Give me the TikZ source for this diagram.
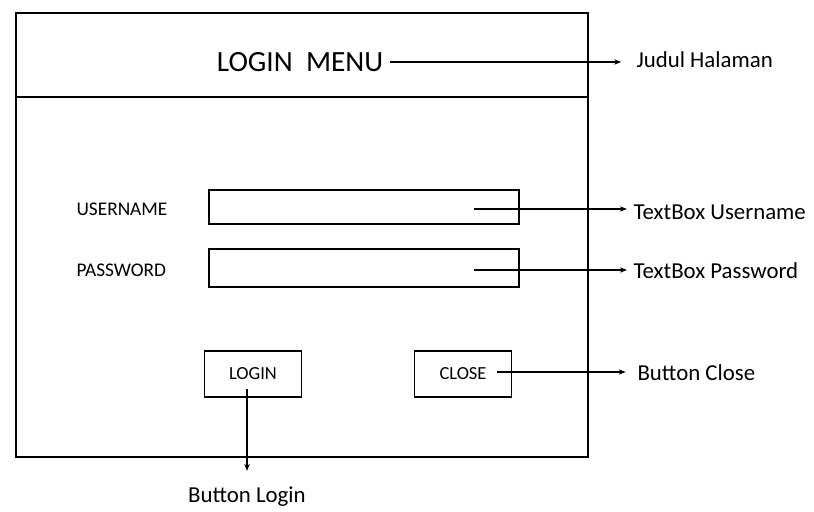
\documentclass[tikz,border=0pt]{standalone}
\usepackage{fontspec}
\setmainfont{Carlito}
\usetikzlibrary{arrows.meta}

\begin{document}
\begin{tikzpicture}[x=0.02cm, y=-0.02cm, line width=0.8pt, >={Stealth[length=4pt,width=3pt]},
	btn/.style={draw, minimum width=1.94cm, minimum height=0.92cm, font=\fontsize{10.5}{12}\selectfont},
	fieldlbl/.style={anchor=west, font=\fontsize{11}{13}\selectfont},
	note/.style={anchor=west, font=\fontsize{13}{15}\selectfont}]
	\useasboundingbox (0,0) rectangle (814,511);
	% form frame and title bar
	\draw (16,13) rectangle (588,457);
	\draw (16,97) -- (588,97);
	\node (title) at (300,62) {\fontsize{16.7}{18}\selectfont LOGIN\ \ MENU};

	\node[fieldlbl] (userlbl) at (70,209) {USERNAME};
	\node[fieldlbl] (passlbl) at (70,270) {PASSWORD};
	\draw (209,190) rectangle (519,224);
	\draw (209,249) rectangle (519,287);
	\coordinate (userpt) at (474,209);
	\coordinate (passpt) at (474,270);

	\node[btn] (loginbtn) at (253,374) {LOGIN};
	\node[btn] (closebtn) at (463,374) {CLOSE};
	\coordinate (closept) at (497,372);
	\coordinate (loginpt) at (247,389);

	\node[note] (judul) at (630,60) {Judul Halaman};
	\node[note] (userbox) at (627,212) {TextBox Username};
	\node[note] (passbox) at (627,271) {TextBox Password};
	\node[note] (closenote) at (631,373) {Button Close};
	\node[note, anchor=center] (loginnote) at (247,497) {Button Login};

	\draw[->, shorten >=5pt] (title.east) -- (title.east -| judul.west);
	\draw[->] (userpt) -- (userpt -| userbox.west);
	\draw[->] (passpt) -- (passpt -| passbox.west);
	\draw[->, shorten >=3pt] (closept) -- (closept -| closenote.west);
	\draw[->, shorten >=5.5pt] (loginpt) -- (loginpt |- loginnote.north);
\end{tikzpicture}
\end{document}
